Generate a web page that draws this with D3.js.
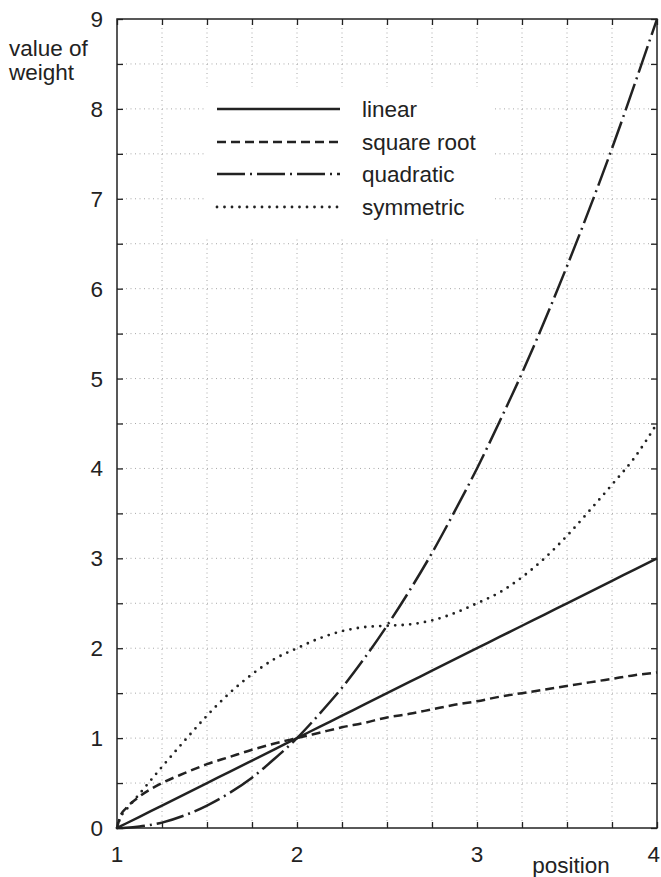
<!DOCTYPE html>
<html>
<head>
<meta charset="utf-8">
<script src="https://cdn.jsdelivr.net/npm/d3@7"></script>
<style>
  html, body { margin: 0; padding: 0; background: #fff; }
  svg text { font-family: "Liberation Sans", Arial, Helvetica, sans-serif; fill: #222; }
</style>
</head>
<body>
<svg id="chart" width="661" height="877"></svg>
<script>
// ---- data ----
const positions    = [1, 1.02, 1.05, 1.125, 1.25, 1.375, 1.5, 1.625, 1.75, 1.875, 2, 2.125, 2.25, 2.375, 2.5, 2.625, 2.75, 2.875, 3, 3.125, 3.25, 3.375, 3.5, 3.625, 3.75, 3.875, 4];
const linearVals   = [0, 0.02, 0.05, 0.125, 0.25, 0.375, 0.5, 0.625, 0.75, 0.875, 1, 1.125, 1.25, 1.375, 1.5, 1.625, 1.75, 1.875, 2, 2.125, 2.25, 2.375, 2.5, 2.625, 2.75, 2.875, 3];
const sqrtVals     = [0, 0.14, 0.22, 0.35, 0.5, 0.61, 0.71, 0.79, 0.87, 0.94, 1.0, 1.06, 1.12, 1.17, 1.23, 1.27, 1.32, 1.37, 1.41, 1.46, 1.5, 1.54, 1.58, 1.62, 1.66, 1.7, 1.73];
const quadVals     = [0, 0.0004, 0.003, 0.016, 0.06, 0.14, 0.25, 0.39, 0.56, 0.77, 1.0, 1.27, 1.56, 1.89, 2.25, 2.64, 3.06, 3.52, 4.0, 4.52, 5.06, 5.64, 6.25, 6.89, 7.56, 8.27, 9.0];
const symVals      = [0, 0.12, 0.2, 0.38, 0.68, 0.97, 1.25, 1.5, 1.71, 1.88, 2.0, 2.11, 2.19, 2.235, 2.25, 2.265, 2.31, 2.39, 2.5, 2.62, 2.79, 3.0, 3.25, 3.53, 3.82, 4.12, 4.5];
const seriesNames  = ["linear", "square root", "quadratic", "symmetric"];
const xTickLabels  = [1, 2, 3, 4];
const yTickLabels  = [0, 1, 2, 3, 4, 5, 6, 7, 8, 9];
const xAxisTitle   = "position";
const yAxisTitle   = ["value of", "weight"];

// ---- layout ----
const svg = d3.select("#chart");
const L = 117, R = 657, T = 19, B = 828;
const x = d3.scaleLinear().domain([1, 4]).range([L, R]);
const y = d3.scaleLinear().domain([0, 9]).range([B, T]);
const ink = "#222";
const fs = 22.5;

const xMinor = d3.range(1, 4.0001, 0.25);
const yMinor = d3.range(0, 9.0001, 0.5);

// grid
const grid = svg.append("g");
grid.selectAll(".gv").data(xMinor.filter(v => v > 1 && v < 4)).join("line")
  .attr("x1", d => x(d)).attr("x2", d => x(d)).attr("y1", T).attr("y2", B)
  .attr("stroke", "#a8a8a8").attr("stroke-width", 1).attr("stroke-dasharray", "1,3.5");
grid.selectAll(".gh").data(yMinor.filter(v => v > 0 && v < 9)).join("line")
  .attr("x1", L).attr("x2", R).attr("y1", d => y(d)).attr("y2", d => y(d))
  .attr("stroke", "#a8a8a8").attr("stroke-width", 1).attr("stroke-dasharray", "1,3.5");

// legend background (hides grid)
svg.append("rect").attr("x", 205).attr("y", 87).attr("width", 287).attr("height", 150).attr("fill", "#fff");

// axes with inward ticks
const tick = 6;
const styleAxis = g => { g.select(".domain").remove(); g.selectAll("line").attr("stroke", ink).attr("stroke-width", 1.3); };
svg.append("g").attr("transform", `translate(0,${B})`)
  .call(d3.axisBottom(x).tickValues(xMinor).tickSizeInner(-tick).tickSizeOuter(0).tickFormat("")).call(styleAxis);
svg.append("g").attr("transform", `translate(0,${T})`)
  .call(d3.axisTop(x).tickValues(xMinor).tickSizeInner(-tick).tickSizeOuter(0).tickFormat("")).call(styleAxis);
svg.append("g").attr("transform", `translate(${L},0)`)
  .call(d3.axisLeft(y).tickValues(yMinor).tickSizeInner(-tick).tickSizeOuter(0).tickFormat("")).call(styleAxis);
svg.append("g").attr("transform", `translate(${R},0)`)
  .call(d3.axisRight(y).tickValues(yMinor).tickSizeInner(-tick).tickSizeOuter(0).tickFormat("")).call(styleAxis);

// tick labels
svg.append("g").selectAll("text").data(xTickLabels).join("text")
  .attr("x", d => d === 4 ? 660 : x(d)).attr("y", 862)
  .attr("text-anchor", d => d === 4 ? "end" : "middle")
  .attr("font-size", fs).text(d => d);
svg.append("g").selectAll("text").data(yTickLabels).join("text")
  .attr("x", 103).attr("y", d => y(d) + 8).attr("text-anchor", "end")
  .attr("font-size", fs).text(d => d);

// axis titles
svg.append("text").attr("x", 571).attr("y", 873).attr("text-anchor", "middle")
  .attr("font-size", fs).text(xAxisTitle);
svg.append("text").attr("x", 9).attr("y", 56).attr("font-size", fs).text(yAxisTitle[0]);
svg.append("text").attr("x", 9).attr("y", 80).attr("font-size", fs).text(yAxisTitle[1]);

// series
const styles = [
  { dash: null, cap: "butt" },
  { dash: "9,5", cap: "butt" },
  { dash: "28,5,2,5", cap: "butt" },
  { dash: "0,7.5", cap: "round" }
];
const seriesVals = [linearVals, sqrtVals, quadVals, symVals];
const line = d3.line().x(d => x(d[0])).y(d => y(d[1])).curve(d3.curveMonotoneX);
seriesVals.forEach((vals, i) => {
  svg.append("path")
    .datum(positions.map((p, k) => [p, vals[k]]))
    .attr("d", line)
    .attr("fill", "none").attr("stroke", ink)
    .attr("stroke-width", i === 3 ? 2.8 : 2.5)
    .attr("stroke-linecap", styles[i].cap)
    .attr("stroke-dasharray", styles[i].dash);
});

// frame
svg.append("rect").attr("x", L).attr("y", T).attr("width", R - L).attr("height", B - T)
  .attr("fill", "none").attr("stroke", ink).attr("stroke-width", 1.5);

// legend
const legY = [109, 142, 174, 207];
const leg = svg.append("g");
seriesNames.forEach((name, i) => {
  leg.append("line").attr("x1", 217).attr("x2", 340).attr("y1", legY[i]).attr("y2", legY[i])
    .attr("stroke", ink).attr("stroke-width", i === 3 ? 2.8 : 2.5)
    .attr("stroke-linecap", styles[i].cap)
    .attr("stroke-dasharray", styles[i].dash);
  leg.append("text").attr("x", 362).attr("y", legY[i] + 8).attr("font-size", fs).text(name);
});
</script>
</body>
</html>
